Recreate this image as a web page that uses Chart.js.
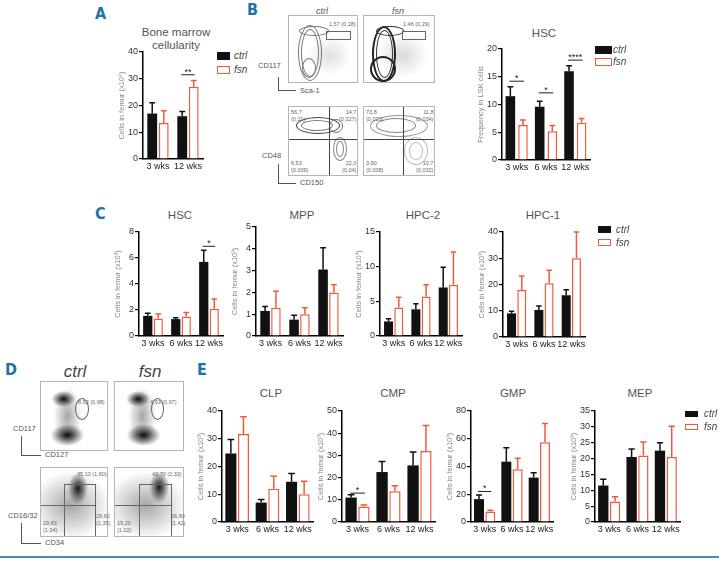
<!DOCTYPE html>
<html>
<head>
<meta charset="utf-8">
<script src="https://cdn.jsdelivr.net/npm/chart.js@4.4.0/dist/chart.umd.min.js"></script>
<style>
body{margin:0;width:719px;height:561px;position:relative;background:#fff;font-family:'Liberation Sans',Arial,sans-serif;overflow:hidden}
.letter{position:absolute;font-family:'Liberation Sans Narrow','DejaVu Sans Condensed',sans-serif;font-weight:bold;font-size:16px;color:#1d72ad}
.ttl{position:absolute;font-size:11.5px;color:#555;transform:translateX(-50%);text-align:center;white-space:nowrap;line-height:13px}
.chart{position:absolute}
.leg{position:absolute;font-size:10px;font-style:italic;color:#444;line-height:10px}
.sw{position:absolute;box-sizing:border-box}
.box{position:absolute;border:1px solid #b5b5b5;box-sizing:border-box;overflow:hidden;background:#fff}
.ring{position:absolute;border:1px solid #777;border-radius:50%;box-sizing:border-box}
.ft{position:absolute;font-size:5.5px;color:#666;line-height:7px;white-space:nowrap}
.ax{position:absolute;font-size:7.5px;color:#555;white-space:nowrap;line-height:8px}
.fl{position:absolute;font-style:italic;color:#555;transform:translateX(-50%);white-space:nowrap}
.ln{position:absolute;background:#555}
.gate{position:absolute;border:1px solid #666;box-sizing:border-box}
</style>
</head>
<body>

<div class="letter" style="left:95px;top:4px">A</div>
<div class="letter" style="left:247px;top:0px">B</div>
<div class="letter" style="left:95px;top:204px">C</div>
<div class="letter" style="left:5px;top:360px">D</div>
<div class="letter" style="left:197px;top:360px">E</div>

<!-- B: flow plots -->
<div class="fl" style="left:322px;top:6px;font-size:9px">ctrl</div>
<div class="fl" style="left:398px;top:6px;font-size:9px">fsn</div>

<div class="box" style="left:288px;top:15px;width:70px;height:68px;background:radial-gradient(ellipse 22px 20px at 60% 60%, rgba(0,0,0,.12), rgba(0,0,0,0))">
  <div class="ring" style="left:9px;top:9px;width:24px;height:56px"></div>
  <div class="ring" style="left:12px;top:13px;width:18px;height:48px"></div>
  <div class="ring" style="left:13px;top:42px;width:14px;height:20px"></div>
  <div class="ring" style="left:10px;top:10px;width:30px;height:10px"></div>
  <div class="gate" style="left:37px;top:15px;width:25px;height:9px"></div>
</div>
<div class="ft" style="left:329px;top:21px">1,57 (0,18)</div>

<div class="box" style="left:363px;top:15px;width:72px;height:68px;background:radial-gradient(ellipse 26px 22px at 55% 60%, rgba(0,0,0,.15), rgba(0,0,0,0))">
  <div class="ring" style="left:8px;top:10px;width:24px;height:56px;border:2px solid #222"></div>
  <div class="ring" style="left:12px;top:14px;width:17px;height:48px;border-color:#333"></div>
  <div class="ring" style="left:6px;top:40px;width:26px;height:26px;border:2px solid #222"></div>
  <div class="ring" style="left:12px;top:10px;width:28px;height:10px;border-color:#333"></div>
  <div class="gate" style="left:38px;top:15px;width:24px;height:9px"></div>
</div>
<div class="ft" style="left:403px;top:21px">1,46 (0,29)</div>

<div class="ax" style="left:258px;top:62px">CD117</div>
<div class="ln" style="left:278px;top:77px;width:1px;height:14px"></div>
<div class="ln" style="left:278px;top:90px;width:18px;height:1px"></div>
<div class="ax" style="left:300px;top:87px">Sca-1</div>

<div class="box" style="left:288px;top:106px;width:70px;height:70px">
  <div class="ring" style="left:7px;top:10px;width:44px;height:17px;border:1.5px solid #444"></div>
  <div class="ring" style="left:12px;top:13px;width:32px;height:11px"></div>
  <div class="ring" style="left:40px;top:12px;width:14px;height:14px"></div>
  <div class="ring" style="left:44px;top:30px;width:14px;height:24px;border-color:#888"></div>
  <div class="ring" style="left:47px;top:34px;width:8px;height:16px;border-color:#888"></div>
  <div class="ln" style="left:40px;top:0;width:1px;height:70px;background:#444"></div>
  <div class="ln" style="left:0;top:32px;width:70px;height:1px;background:#444"></div>
</div>
<div class="ft" style="left:291px;top:109px">56,7<br>(0,11)</div>
<div class="ft" style="left:339px;top:109px;text-align:right">14,7<br>(0,027)</div>
<div class="ft" style="left:291px;top:160px">6,53<br>(0,009)</div>
<div class="ft" style="left:342px;top:160px;text-align:right">22,0<br>(0,04)</div>

<div class="box" style="left:363px;top:106px;width:72px;height:70px">
  <div class="ring" style="left:6px;top:8px;width:58px;height:22px;border-color:#999"></div>
  <div class="ring" style="left:12px;top:11px;width:40px;height:15px;border-color:#888"></div>
  <div class="ring" style="left:40px;top:30px;width:24px;height:28px;border-color:#bbb"></div>
  <div class="ring" style="left:45px;top:35px;width:14px;height:18px;border-color:#bbb"></div>
  <div class="ln" style="left:39px;top:0;width:1px;height:70px;background:#444"></div>
  <div class="ln" style="left:0;top:32px;width:72px;height:1px;background:#444"></div>
</div>
<div class="ft" style="left:366px;top:109px">73,8<br>(0,023)</div>
<div class="ft" style="left:416px;top:109px;text-align:right">11,8<br>(0,034)</div>
<div class="ft" style="left:366px;top:160px">3,90<br>(0,008)</div>
<div class="ft" style="left:416px;top:160px;text-align:right">10,7<br>(0,032)</div>

<div class="ax" style="left:262px;top:152px">CD48</div>
<div class="ln" style="left:278px;top:164px;width:1px;height:20px"></div>
<div class="ln" style="left:278px;top:183px;width:18px;height:1px"></div>
<div class="ax" style="left:300px;top:179px">CD150</div>

<!-- D: flow plots -->
<div class="fl" style="left:75px;top:362px;font-size:17px;color:#444">ctrl</div>
<div class="fl" style="left:150px;top:362px;font-size:17px;color:#444">fsn</div>

<div class="box" style="left:40px;top:381px;width:68px;height:70px;background:radial-gradient(ellipse 12px 8px at 34% 25%, rgba(0,0,0,.95), rgba(0,0,0,0)),radial-gradient(ellipse 17px 11px at 40% 78%, rgba(0,0,0,.95), rgba(0,0,0,0)),radial-gradient(ellipse 14px 30px at 40% 50%, rgba(0,0,0,.35), rgba(0,0,0,0))">
  <div class="ring" style="left:34px;top:16px;width:14px;height:22px;border-color:#666"></div>
</div>
<div class="ft" style="left:78px;top:399px">8,62 (0,98)</div>
<div class="box" style="left:114px;top:381px;width:70px;height:70px;background:radial-gradient(ellipse 12px 8px at 34% 25%, rgba(0,0,0,.95), rgba(0,0,0,0)),radial-gradient(ellipse 17px 11px at 42% 78%, rgba(0,0,0,.95), rgba(0,0,0,0)),radial-gradient(ellipse 14px 30px at 40% 50%, rgba(0,0,0,.35), rgba(0,0,0,0))">
  <div class="ring" style="left:36px;top:16px;width:13px;height:22px;border-color:#666"></div>
</div>
<div class="ft" style="left:150px;top:399px">4,93 (0,97)</div>

<div class="ax" style="left:13px;top:425px">CD117</div>
<div class="ln" style="left:21px;top:436px;width:1px;height:19px"></div>
<div class="ln" style="left:21px;top:455px;width:20px;height:1px"></div>
<div class="ax" style="left:45px;top:451px">CD127</div>

<div class="box" style="left:40px;top:467px;width:68px;height:70px;background:radial-gradient(ellipse 10px 16px at 56% 30%, rgba(0,0,0,.9), rgba(0,0,0,0)),radial-gradient(ellipse 40px 34px at 45% 55%, rgba(0,0,0,.35), rgba(0,0,0,0))">
  <div class="gate" style="left:23px;top:16px;width:32px;height:54px"></div>
  <div class="ln" style="left:0;top:37px;width:55px;height:1px;background:#666"></div>
</div>
<div class="ft" style="left:77px;top:471px">35,10 (1,60)</div>
<div class="ft" style="left:96px;top:513px">29,60<br>(1,35)</div>
<div class="ft" style="left:43px;top:520px">29,83<br>(1,04)</div>

<div class="box" style="left:114px;top:467px;width:70px;height:70px;background:radial-gradient(ellipse 10px 16px at 65% 28%, rgba(0,0,0,.9), rgba(0,0,0,0)),radial-gradient(ellipse 40px 34px at 45% 55%, rgba(0,0,0,.35), rgba(0,0,0,0))">
  <div class="gate" style="left:24px;top:16px;width:33px;height:54px"></div>
  <div class="ln" style="left:0;top:37px;width:57px;height:1px;background:#666"></div>
</div>
<div class="ft" style="left:152px;top:471px">43,70 (2,33)</div>
<div class="ft" style="left:171px;top:513px">26,60<br>(1,42)</div>
<div class="ft" style="left:117px;top:520px">19,20<br>(1,02)</div>

<div class="ax" style="left:8px;top:512px">CD16/32</div>
<div class="ln" style="left:21px;top:523px;width:1px;height:20px"></div>
<div class="ln" style="left:21px;top:543px;width:20px;height:1px"></div>
<div class="ax" style="left:45px;top:539px">CD34</div>

<!-- titles -->
<div class="ttl" style="left:176px;top:26px">Bone marrow<br>cellularity</div>
<div class="ttl" style="left:544px;top:27px">HSC</div>
<div class="ttl" style="left:180px;top:209px">HSC</div>
<div class="ttl" style="left:302px;top:209px">MPP</div>
<div class="ttl" style="left:423px;top:209px">HPC-2</div>
<div class="ttl" style="left:543px;top:209px">HPC-1</div>
<div class="ttl" style="left:271px;top:387px">CLP</div>
<div class="ttl" style="left:393px;top:387px">CMP</div>
<div class="ttl" style="left:513px;top:387px">GMP</div>
<div class="ttl" style="left:640px;top:387px">MEP</div>

<div style="position:absolute;left:0;top:556px;width:719px;height:2px;background:#3d8fbf"></div>

<script>
// series and categories
const seriesNames = ['ctrl', 'fsn'];
const weeksA = ['3 wks', '12 wks'];
const weeks = ['3 wks', '6 wks', '12 wks'];

// A - bone marrow cellularity (x10^6)
const bmCtrl = [17.0, 16.0];
const bmCtrlSem = [4.0, 1.8];
const bmFsn = [13.5, 27.0];
const bmFsnSem = [4.5, 2.3];
const bmSig = [{ i: 1, at: 31.5, text: '**' }];

// B - HSC frequency in LSK cells
const hscFreqCtrl = [11.5, 9.6, 16.0];
const hscFreqCtrlSem = [1.7, 1.0, 1.0];
const hscFreqFsn = [6.3, 5.2, 6.7];
const hscFreqFsnSem = [0.9, 1.0, 0.8];
const hscFreqSig = [{ i: 0, at: 14.2, text: '*' }, { i: 1, at: 12.1, text: '*' }, { i: 2, at: 18.0, text: '****' }];

// C - cells in femur (x10^3)
const hscCtrl = [1.55, 1.3, 5.7];
const hscCtrlSem = [0.2, 0.1, 0.9];
const hscFsn = [1.35, 1.5, 2.1];
const hscFsnSem = [0.35, 0.3, 0.75];
const hscSig = [{ i: 2, at: 6.9, text: '*' }];

const mppCtrl = [1.15, 0.75, 3.05];
const mppCtrlSem = [0.2, 0.2, 1.0];
const mppFsn = [1.3, 1.0, 2.0];
const mppFsnSem = [0.75, 0.3, 0.35];

const hpc2Ctrl = [2.1, 3.85, 7.0];
const hpc2CtrlSem = [0.4, 0.8, 2.9];
const hpc2Fsn = [4.1, 5.7, 7.4];
const hpc2FsnSem = [1.5, 1.7, 4.7];

const hpc1Ctrl = [9.0, 10.3, 15.9];
const hpc1CtrlSem = [0.8, 1.5, 2.1];
const hpc1Fsn = [17.9, 20.5, 30.0];
const hpc1FsnSem = [5.3, 4.9, 10.0];

// E - progenitors (x10^3)
const clpCtrl = [24.7, 7.0, 14.5];
const clpCtrlSem = [5.0, 1.1, 3.0];
const clpFsn = [31.7, 12.0, 10.0];
const clpFsnSem = [6.2, 4.5, 4.7];

const cmpCtrl = [11.0, 22.5, 25.5];
const cmpCtrlSem = [1.3, 4.7, 6.0];
const cmpFsn = [7.0, 13.8, 32.0];
const cmpFsnSem = [0.7, 2.5, 11.5];
const cmpSig = [{ i: 0, at: 13, text: '*' }];

const gmpCtrl = [16.5, 43.5, 32.0];
const gmpCtrlSem = [3.0, 10.0, 3.5];
const gmpFsn = [7.5, 38.0, 57.5];
const gmpFsnSem = [1.0, 8.0, 13.5];
const gmpSig = [{ i: 0, at: 22, text: '*' }];

const mepCtrl = [11.5, 20.5, 22.5];
const mepCtrlSem = [2.0, 2.5, 2.5];
const mepFsn = [6.5, 21.0, 20.5];
const mepFsnSem = [1.5, 4.2, 9.7];

const RED = '#ef5a3c';
const FONT = "'Liberation Sans', Arial, sans-serif";

// error bars (upper only), drawn from the bar top
const errorBars = {
    id: 'errorBars',
    afterDatasetsDraw(chart) {
        const { ctx } = chart;
        const y = chart.scales.y;
        chart.data.datasets.forEach((ds, i) => {
            const meta = chart.getDatasetMeta(i);
            ctx.save();
            ctx.strokeStyle = ds.errColor;
            ctx.lineWidth = 1.5;
            meta.data.forEach((bar, j) => {
                const top = y.getPixelForValue(ds.data[j] + ds.sem[j]);
                const cap = bar.width * 0.3;
                ctx.beginPath();
                ctx.moveTo(bar.x, bar.y);
                ctx.lineTo(bar.x, top);
                ctx.moveTo(bar.x - cap, top);
                ctx.lineTo(bar.x + cap, top);
                ctx.stroke();
            });
            ctx.restore();
        });
    }
};

// significance bracket + stars
const sigMarks = {
    id: 'sigMarks',
    afterDatasetsDraw(chart, args, opts) {
        const { ctx } = chart;
        const y = chart.scales.y;
        (opts.marks || []).forEach(m => {
            const a = chart.getDatasetMeta(0).data[m.i];
            const b = chart.getDatasetMeta(1).data[m.i];
            const py = y.getPixelForValue(m.at);
            ctx.save();
            ctx.strokeStyle = '#222';
            ctx.lineWidth = 1;
            ctx.beginPath();
            ctx.moveTo(a.x - 1, py);
            ctx.lineTo(b.x + 1, py);
            ctx.stroke();
            ctx.fillStyle = '#222';
            ctx.font = '9px ' + FONT;
            ctx.textAlign = 'center';
            ctx.textBaseline = 'bottom';
            ctx.fillText(m.text, (a.x + b.x) / 2, py + 2);
            ctx.restore();
        });
    }
};

function makeChart(p) {
    const yw = 26, xh = 14, pt = 8, pr = 6, pb = 8;
    const wrap = document.createElement('div');
    wrap.className = 'chart';
    wrap.style.left = (p.x - yw) + 'px';
    wrap.style.top = (p.t - pt) + 'px';
    wrap.style.width = (p.r - p.x + yw + pr) + 'px';
    wrap.style.height = (p.b - p.t + pt + xh + pb) + 'px';
    const cv = document.createElement('canvas');
    wrap.appendChild(cv);
    document.body.appendChild(wrap);

    new Chart(cv, {
        type: 'bar',
        data: {
            labels: p.cats,
            datasets: [{
                label: seriesNames[0],
                data: p.ctrl,
                sem: p.ctrlSem,
                errColor: '#111',
                backgroundColor: '#111',
                borderWidth: 0,
                categoryPercentage: p.cp,
                barPercentage: p.bp
            }, {
                label: seriesNames[1],
                data: p.fsn,
                sem: p.fsnSem,
                errColor: RED,
                backgroundColor: '#fff',
                borderColor: RED,
                borderWidth: 1.5,
                categoryPercentage: p.cp,
                barPercentage: p.bp
            }]
        },
        options: {
            responsive: true,
            maintainAspectRatio: false,
            animation: false,
            layout: { padding: { top: pt, right: pr, left: 0, bottom: pb } },
            plugins: {
                legend: { display: false },
                tooltip: { enabled: false },
                sigMarks: { marks: p.sig || [] }
            },
            scales: {
                x: {
                    afterFit(s) { s.height = xh; },
                    grid: { display: false, drawTicks: false },
                    border: { display: true, color: '#000', width: 1.5 },
                    ticks: { color: '#222', font: { size: 9, family: FONT }, padding: 2, maxRotation: 0, autoSkip: false }
                },
                y: {
                    min: 0,
                    max: p.max,
                    afterFit(s) { s.width = yw; },
                    ticks: { stepSize: p.step, color: '#333', font: { size: 9, family: FONT }, padding: 1 },
                    grid: { display: true, drawOnChartArea: false, drawTicks: true, tickLength: 4, color: '#000', lineWidth: 1.2 },
                    border: { display: true, color: '#000', width: 1.5 },
                    title: { display: true, text: p.yTitle, color: '#888', font: { size: 7.5, family: FONT }, padding: { top: 0, bottom: 1 } }
                }
            }
        },
        plugins: [errorBars, sigMarks]
    });
}

function makeLegend(x, y, w, h, gap, textX) {
    seriesNames.forEach((name, i) => {
        const sw = document.createElement('div');
        sw.className = 'sw';
        sw.style.left = x + 'px';
        sw.style.top = (y + i * gap) + 'px';
        sw.style.width = w + 'px';
        sw.style.height = h + 'px';
        if (i === 0) sw.style.background = '#111';
        else sw.style.border = '1.5px solid ' + RED;
        document.body.appendChild(sw);
        const t = document.createElement('div');
        t.className = 'leg';
        t.textContent = name;
        t.style.left = textX + 'px';
        t.style.top = (y + i * gap + h / 2 - 5) + 'px';
        document.body.appendChild(t);
    });
}

const cellsK = 'Cells in femur (x10\u00B3)';
const panels = [
    { x: 143, r: 203, t: 52, b: 159, cats: weeksA, ctrl: bmCtrl, ctrlSem: bmCtrlSem, fsn: bmFsn, fsnSem: bmFsnSem, max: 40, step: 10, yTitle: 'Cells in femur (x10\u2076)', sig: bmSig, cp: 0.77, bp: 0.85 },
    { x: 502, r: 590, t: 49, b: 160, cats: weeks, ctrl: hscFreqCtrl, ctrlSem: hscFreqCtrlSem, fsn: hscFreqFsn, fsnSem: hscFreqFsnSem, max: 20, step: 5, yTitle: 'Frequency in LSK cells', sig: hscFreqSig, cp: 0.86, bp: 0.76 },
    { x: 139, r: 223, t: 232, b: 336, cats: weeks, ctrl: hscCtrl, ctrlSem: hscCtrlSem, fsn: hscFsn, fsnSem: hscFsnSem, max: 8, step: 2, yTitle: cellsK, sig: hscSig, cp: 0.75, bp: 0.88 },
    { x: 256, r: 343, t: 227, b: 336, cats: weeks, ctrl: mppCtrl, ctrlSem: mppCtrlSem, fsn: mppFsn, fsnSem: mppFsnSem, max: 5, step: 1, yTitle: cellsK, cp: 0.75, bp: 0.88 },
    { x: 380, r: 462, t: 232, b: 336, cats: weeks, ctrl: hpc2Ctrl, ctrlSem: hpc2CtrlSem, fsn: hpc2Fsn, fsnSem: hpc2FsnSem, max: 15, step: 5, yTitle: cellsK, cp: 0.75, bp: 0.88 },
    { x: 503, r: 585, t: 232, b: 337, cats: weeks, ctrl: hpc1Ctrl, ctrlSem: hpc1CtrlSem, fsn: hpc1Fsn, fsnSem: hpc1FsnSem, max: 40, step: 10, yTitle: cellsK, cp: 0.75, bp: 0.88 },
    { x: 222, r: 313, t: 411, b: 522, cats: weeks, ctrl: clpCtrl, ctrlSem: clpCtrlSem, fsn: clpFsn, fsnSem: clpFsnSem, max: 40, step: 10, yTitle: cellsK, cp: 0.83, bp: 0.88 },
    { x: 342, r: 435, t: 411, b: 522, cats: weeks, ctrl: cmpCtrl, ctrlSem: cmpCtrlSem, fsn: cmpFsn, fsnSem: cmpFsnSem, max: 50, step: 10, yTitle: cellsK, sig: cmpSig, cp: 0.83, bp: 0.88 },
    { x: 471, r: 553, t: 411, b: 522, cats: weeks, ctrl: gmpCtrl, ctrlSem: gmpCtrlSem, fsn: gmpFsn, fsnSem: gmpFsnSem, max: 80, step: 20, yTitle: cellsK, sig: gmpSig, cp: 0.83, bp: 0.88 },
    { x: 595, r: 680, t: 411, b: 522, cats: weeks, ctrl: mepCtrl, ctrlSem: mepCtrlSem, fsn: mepFsn, fsnSem: mepFsnSem, max: 35, step: 5, yTitle: cellsK, cp: 0.83, bp: 0.88 }
];

panels.forEach(makeChart);

makeLegend(217, 52, 13, 8, 14, 234);
makeLegend(595, 46, 17, 8, 12, 613);
makeLegend(598, 226, 13, 7, 13, 616);
makeLegend(685, 411, 13, 6, 13, 704);
</script>
</body>
</html>
